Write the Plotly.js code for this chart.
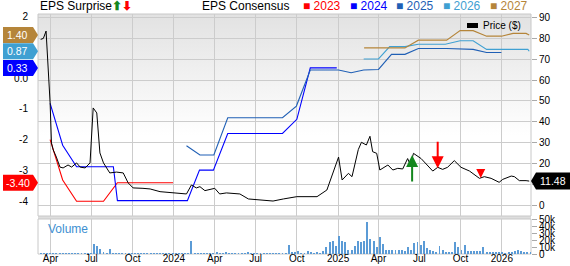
<!DOCTYPE html>
<html><head><meta charset="utf-8">
<script src="https://cdn.plot.ly/plotly-3.0.1.min.js"></script>
<style>
html,body{margin:0;padding:0;background:#fff;}
#bg{position:absolute;left:38px;top:14px;width:493px;height:202px;background:linear-gradient(to bottom,#e2e2e2 0%,#f3f3f3 35%,#ffffff 60%);}
#chart{position:absolute;left:0;top:0;width:570px;height:266px;}
</style></head><body>
<div id="bg"></div><div id="chart"></div>
<script>
// ---------- data ----------
const priceDates = ['2023-03-10','2023-03-16','2023-03-22','2023-03-27','2023-03-31','2023-04-03','2023-04-07','2023-04-14','2023-04-22','2023-04-29','2023-05-10','2023-05-18','2023-05-29','2023-06-06','2023-06-17','2023-06-28','2023-07-05','2023-07-13','2023-07-20','2023-07-28','2023-08-11','2023-08-26','2023-09-10','2023-09-21','2023-10-02','2023-10-24','2023-11-09','2023-12-01','2023-12-30','2024-01-29','2024-02-09','2024-02-20','2024-02-28','2024-03-10','2024-04-01','2024-04-12','2024-04-27','2024-05-27','2024-06-15','2024-07-11','2024-08-09','2024-09-01','2024-10-01','2024-11-15','2024-12-07','2025-01-02','2025-01-10','2025-01-24','2025-02-01','2025-02-15','2025-02-22','2025-03-05','2025-03-13','2025-03-19','2025-03-28','2025-04-04','2025-04-22','2025-05-03','2025-05-14','2025-05-25','2025-06-05','2025-06-11','2025-06-18','2025-07-05','2025-07-31','2025-08-11','2025-08-22','2025-09-02','2025-09-17','2025-10-02','2025-10-21','2025-11-12','2025-11-23','2025-12-08','2025-12-26','2026-01-03','2026-01-22','2026-01-29','2026-02-09','2026-02-24','2026-03-03'];
const priceVals = [79.5,80,83.5,66.4,49,29.8,26.4,23,18.2,17.8,19.2,18.2,20.2,18.2,17.8,20.2,46.6,44.2,25,20.2,15.4,15.8,15.4,10.6,8.2,8.0,7.7,6.4,5.8,5.3,9.6,8.2,8.8,6.9,8.0,5.3,5.8,5.3,2.9,2.4,1.9,2.9,4.0,4.0,7.2,23,12,15.2,13.6,26.6,30.1,28.8,33,25.6,24.8,16.8,19.2,16.8,17.6,17.3,22.3,19.2,24.8,22.3,16.3,18.1,17.1,18.1,21.3,18.1,16.3,12.8,13.6,12.8,10.9,12.3,13.9,13.6,11.7,11.7,11.48];

const c2023Dates = ['2023-03-31','2023-04-28','2023-05-29','2023-07-28','2023-08-28','2023-12-30'];
const c2023Vals  = [-2.0,-3.31,-4.0,-4.0,-3.4,-3.4];
const c2024Dates = ['2023-03-31','2023-04-28','2023-05-29','2023-08-19','2023-08-28','2024-01-31','2024-02-27','2024-03-29','2024-04-30','2024-08-30','2024-10-01','2024-10-31','2024-12-29'];
const c2024Vals  = [-0.82,-2.18,-2.88,-2.88,-3.98,-3.98,-2.99,-2.99,-1.80,-1.80,-1.34,0.33,0.33];
const c2025Dates = ['2024-01-29','2024-02-28','2024-03-30','2024-04-30','2024-08-30','2024-09-30','2024-10-31','2025-01-02','2025-01-30','2025-02-27','2025-04-01','2025-04-30','2025-05-30','2025-06-29','2025-08-31','2025-10-29','2025-11-28','2025-12-31'];
const c2025Vals  = [-2.2,-2.5,-2.5,-1.29,-1.29,-0.91,0.26,0.26,0.17,0.26,0.28,0.77,0.77,0.96,0.96,0.93,0.83,0.83];
const c2026Dates = ['2025-02-27','2025-04-01','2025-04-26','2025-05-30','2025-06-29','2025-08-28','2025-09-30','2025-10-29','2025-11-28','2026-02-28','2026-03-03'];
const c2026Vals  = [0.62,0.62,1.02,1.02,1.10,1.10,1.21,1.21,0.93,0.93,0.87];
const c2027Dates = ['2025-02-28','2025-05-30','2025-06-29','2025-08-31','2025-09-30','2025-10-29','2025-11-28','2025-12-31','2026-01-26','2026-02-24','2026-03-03'];
const c2027Vals  = [0.98,0.98,1.23,1.23,1.54,1.54,1.36,1.36,1.45,1.45,1.40];

// weekly volume (thousands), first week 2023-03-10
const volStart = '2023-03-10';
const volVals = [1,1,2,1.5,1,
 1,1,1,1,1,1,1,1,1,1,1,
 1,15,12,7,3,2,7,1.5,
 1.5,1,1,1,1.5,1,1,1,1,1,1.5,1,1,1,1,1,1,1,1,1,1,1,1,1,
 19,
 1,1,1,1,1,1,1,
 3,2,2,3,2,1.5,1.5,1,1,1,3,
 1,1,1,1,1,1,1,1,1,1,1,1,
 13,3,3,5,1.5,2,5,2.5,1.5,2.5,
 1.5,5,9.5,17,19,11,26,19,17,6,6,12,19,17,18,46,22,18,9.5,24,14,
 6,6,6,6,6,6,5,9.5,6,16,17,13,18,8,6,5,3,11,6,3,3,3,
 17,9.5,6,13,5,5,5,5,5,9.5,3,3,2.5,3,2.5,3,1.5,3,2.5,5,6,5,2.5,2.5,3];

const surpriseDates = ['2025-06-15','2025-08-11','2025-11-15'];
const surprisePrice = [24, 17.6, 13];
const surpriseDir   = ['up','down','down'];
const surpriseLen   = [28, 28, 9];

const tickDates = ['2023-04-01','2023-07-01','2023-10-01','2024-01-01','2024-04-01','2024-07-01','2024-10-01','2025-01-01','2025-04-01','2025-07-01','2025-10-01','2026-01-01'];
const tickLabels = ['Apr','Jul','Oct','2024','Apr','Jul','Oct','2025','Apr','Jul','Oct','2026'];
const epsTicks = [2,0,-1,-2,-3,-4];
const epsTickText = ['2','0.0','-1','-2','-3','-4'];
const priceTicks = [0,10,20,30,40,50,60,70,80,90];
const priceTickText = ['0','','20','30','40','50','60','70','80','90'];
const volTicks = [0,10,20,30,40,50];
const volTickText = ['0','10k','20k','30k','40k','50k'];

const years = ['2023','2024','2025','2026','2027'];
const yearColors = ['#ff0000','#0000ff','#1f5fb5','#3fa0d2','#b5853a'];
const consensus = [[c2023Dates,c2023Vals],[c2024Dates,c2024Vals],[c2025Dates,c2025Vals],[c2026Dates,c2026Vals],[c2027Dates,c2027Vals]];
const badgeYears = ['2027','2026','2024','2023'];

// ---------- layout helpers ----------
const W=570,H=266,L=38,R=39,T=14,B=12;
const pw=W-L-R, ph=H-T-B;
const px = x => (x-L)/pw;
const py = y => (H-B-y)/ph;
const mainBottom = py(216), volTop = py(219);
const FONT = 'Liberation Sans, Arial, sans-serif';

const traces = [];
traces.push({type:'bar', x0:volStart, dx:7*86400000, y:volVals, yaxis:'y3', xaxis:'x',
  marker:{color:'#5b9bd6', line:{width:0}}, width:4.3*86400000, hoverinfo:'skip'});
consensus.forEach((c,i)=>{
  traces.push({type:'scatter', mode:'lines', x:c[0], y:c[1], yaxis:'y', xaxis:'x',
    line:{color:yearColors[i], width:1.1}, hoverinfo:'skip'});
});
traces.push({type:'scatter', mode:'lines', x:priceDates, y:priceVals, yaxis:'y2', xaxis:'x',
  line:{color:'#000', width:1}, hoverinfo:'skip'});

const annotations = [];
const shapes = [];
// header
annotations.push({xref:'paper', yref:'paper', x:0, y:1, xanchor:'left', yanchor:'bottom', yshift:-1,
  text:'EPS Surprise<b><span style="color:#14871e">⬆</span><span style="color:#ff0000">⬇</span></b>', showarrow:false,
  font:{family:FONT, size:12, color:'#000'}});
annotations.push({xref:'paper', yref:'paper', x:px(200), y:1, xanchor:'left', yanchor:'bottom', yshift:-1,
  text:'EPS Consensus', showarrow:false, font:{family:FONT, size:12, color:'#000'}});
const legendPx = [301, 347.5, 394, 441, 487.5];
years.forEach((yr,i)=>{
  annotations.push({xref:'paper', yref:'paper', x:px(legendPx[i]), y:1, xanchor:'left', yanchor:'bottom', yshift:-1,
    text:'■ '+yr, showarrow:false, font:{family:FONT, size:12, color:yearColors[i]}});
});
// price legend
shapes.push({type:'rect', xref:'paper', yref:'paper', xsizemode:'pixel', ysizemode:'pixel',
  xanchor:px(472.5), yanchor:py(25.5), x0:-5.5, x1:5.5, y0:-2.5, y1:2.5, fillcolor:'#000', line:{width:0}});
annotations.push({xref:'paper', yref:'paper', x:px(481), y:py(25.5), xanchor:'left', yanchor:'middle',
  text:'Price ($)', showarrow:false, font:{family:FONT, size:10, color:'#000'}});
// volume label
annotations.push({xref:'paper', yref:'paper', x:px(46), y:py(229), xanchor:'left', yanchor:'middle',
  text:'Volume', showarrow:false, font:{family:FONT, size:12, color:'#3d8fd1'}});
// frames
shapes.push({type:'rect', xref:'paper', yref:'paper', x0:0, x1:1, y0:volTop, y1:mainBottom, fillcolor:'#dedede', line:{width:0}, layer:'below'});
shapes.push({type:'rect', xref:'paper', yref:'paper', x0:0, x1:1, y0:mainBottom, y1:1, line:{color:'#c8c8c8', width:1}, layer:'below'});
shapes.push({type:'rect', xref:'paper', yref:'paper', x0:0, x1:1, y0:0, y1:volTop, line:{color:'#c8c8c8', width:1}, layer:'below'});
// left badges
badgeYears.forEach(yr=>{
  const i = years.indexOf(yr);
  const vals = consensus[i][1];
  const v = vals[vals.length-1];
  shapes.push({type:'path', xref:'paper', yref:'y', xsizemode:'pixel', ysizemode:'pixel', xanchor:0, yanchor:v,
    path:'M-35,-8 L-5,-8 L0,0 L-5,8 L-35,8 Z', fillcolor:yearColors[i], line:{width:0}});
  annotations.push({xref:'paper', yref:'y', x:0, y:v, xshift:-20.5, xanchor:'center', yanchor:'middle',
    text:v.toFixed(2), showarrow:false, font:{family:FONT, size:10.5, color:'#fff'}});
});
// price badge
const lastPrice = priceVals[priceVals.length-1];
shapes.push({type:'path', xref:'paper', yref:'y2', xsizemode:'pixel', ysizemode:'pixel', xanchor:1, yanchor:lastPrice,
  path:'M0,0 L5,-8.5 L40,-8.5 L40,8.5 L5,8.5 Z', fillcolor:'#000', line:{width:0}});
annotations.push({xref:'paper', yref:'y2', x:1, y:lastPrice, xshift:22, xanchor:'center', yanchor:'middle',
  text:lastPrice.toFixed(2), showarrow:false, font:{family:FONT, size:10.5, color:'#fff'}});
// surprise arrows
surpriseDates.forEach((d,i)=>{
  const up = surpriseDir[i]==='up';
  const small = surpriseLen[i] < 15;
  annotations.push({xref:'x', yref:'y2', x:d, y:surprisePrice[i], ax:0, ay: up ? surpriseLen[i] : -surpriseLen[i],
    text:'', showarrow:true, arrowhead:2, arrowsize: small ? 0.9 : 1.2, arrowwidth:2, arrowcolor: up ? '#14871e' : '#ff0000'});
});

const layout = {
  width:W, height:H, margin:{l:L, r:R, t:T, b:B, pad:0},
  paper_bgcolor:'rgba(0,0,0,0)', plot_bgcolor:'rgba(0,0,0,0)',
  showlegend:false, hovermode:false, bargap:0,
  font:{family:FONT, size:10, color:'#000'},
  xaxis:{type:'date', range:['2023-03-04','2026-03-07'], anchor:'y3', tickvals:tickDates, ticktext:tickLabels,
    showgrid:true, gridcolor:'#cccccc', gridwidth:1, ticks:'', ticklabelstandoff:-3, tickfont:{size:10}, showline:false, zeroline:false},
  yaxis:{domain:[mainBottom,1], range:[-4.48,2.08], tickvals:epsTicks, ticktext:epsTickText, showgrid:false, zeroline:false,
    ticks:'outside', ticklen:7, tickcolor:'rgba(0,0,0,0)', tickfont:{size:10}, showline:false},
  yaxis2:{overlaying:'y', side:'right', range:[-5.28,91.7], tickvals:priceTicks, ticktext:priceTickText, showgrid:true, gridcolor:'#cccccc', gridwidth:1,
    zeroline:false, ticks:'outside', ticklen:5, tickcolor:'#aaaaaa', tickfont:{size:10}, showline:false},
  yaxis3:{domain:[0,volTop], range:[0,50], side:'right', anchor:'x', tickvals:volTicks, ticktext:volTickText, showgrid:false,
    zeroline:false, ticks:'outside', ticklen:5, tickcolor:'#aaaaaa', tickfont:{size:10}, showline:false},
  shapes:shapes, annotations:annotations
};
Plotly.newPlot('chart', traces, layout, {staticPlot:true, displayModeBar:false});
</script></body></html>
